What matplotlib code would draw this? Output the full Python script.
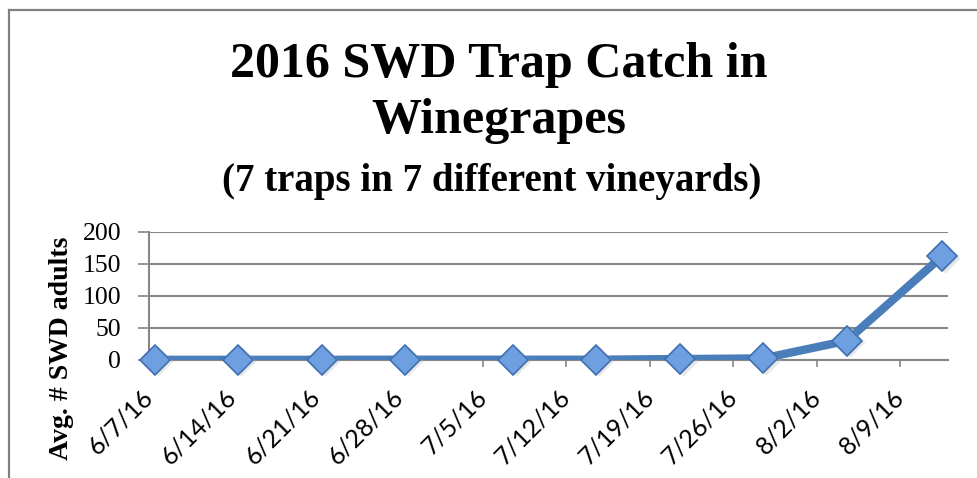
import numpy as np
import matplotlib
matplotlib.use("Agg")
import matplotlib.pyplot as plt
import matplotlib.dates as mdates
import matplotlib.transforms as mtransforms
from matplotlib.lines import Line2D
from datetime import date, timedelta

# trap check dates and average catch per trap
dates = [date(2016, 6, 7), date(2016, 6, 14), date(2016, 6, 21), date(2016, 6, 28),
         date(2016, 7, 7), date(2016, 7, 14), date(2016, 7, 21), date(2016, 7, 28),
         date(2016, 8, 4), date(2016, 8, 12)]
avg_swd = [0.3, 0.3, 0.3, 0.5, 0.5, 0.5, 1.5, 2.5, 30, 162]

tick_dates = [date(2016, 6, 7) + timedelta(days=7 * i) for i in range(10)]
tick_labels = [f"{d.month}/{d.day}/{d:%y}" for d in tick_dates]
y_ticks = [0, 50, 100, 150, 200]

title = "2016 SWD Trap Catch in\nWinegrapes"
subtitle = "(7 traps in 7 different vineyards)"
ylabel = "Avg. # SWD adults"

LINE = "#4A7EBB"
GRID = "#868686"

fig = plt.figure(figsize=(9.78, 4.78), dpi=100)
ax = fig.add_axes([149 / 978, 1 - 360 / 478, (948 - 149) / 978, (360 - 232) / 478])

# excel date axis puts each point in the middle of its day
x = mdates.date2num(dates) + 0.5
ax.plot(x, avg_swd, color=LINE, lw=6, solid_capstyle="butt", zorder=3)
ax.plot(x + 0.25, np.array(avg_swd) - 2.5, ls="none", marker="D", ms=15.5,
        mfc="#bbbbbb", mec="none", alpha=0.35, zorder=3, clip_on=False)
ax.plot(x, avg_swd, ls="none", marker="D", ms=15.5, mfc="#6E9FE0", mec="#3F6FAF",
        mew=1.2, zorder=4, clip_on=False)

ax.set_xlim(mdates.date2num(date(2016, 6, 7)), mdates.date2num(date(2016, 8, 13)))
ax.set_ylim(0, 200)
ax.set_xticks(mdates.date2num(tick_dates))
ax.set_xticklabels(tick_labels, rotation=45, ha="right", va="center",
                   rotation_mode="anchor", family="Lato", fontsize=18)
shift = mtransforms.ScaledTranslation(5 / 72, 0, fig.dpi_scale_trans)
for lab in ax.get_xticklabels():
    lab.set_transform(lab.get_transform() + shift)
ax.set_yticks(y_ticks)
ax.set_yticklabels([str(v) for v in y_ticks], family="Liberation Serif", fontsize=18.5)
ax.tick_params(axis="x", length=5, width=1.2, color=GRID, pad=19)
ax.tick_params(axis="y", length=8, width=1.2, color=GRID, pad=12)
ax.yaxis.grid(True, color=GRID, lw=1.5)
ax.set_axisbelow(True)
for s in ["top", "right"]:
    ax.spines[s].set_visible(False)
for s in ["left", "bottom"]:
    ax.spines[s].set_color(GRID)
    ax.spines[s].set_linewidth(1.5)

fig.text(62 / 978, 1 - 348 / 478, ylabel, rotation=90, ha="center", va="center",
         family="Liberation Serif", fontweight="bold", fontsize=20)

fig.text(499 / 978, 1 - 93 / 478, title, ha="center", va="center", family="Liberation Serif",
         fontweight="bold", fontsize=36, linespacing=1.3)
fig.text(492 / 978, 1 - 181 / 478, subtitle, ha="center", va="center",
         family="Liberation Serif", fontweight="bold", fontsize=28)

# chart frame (only left and top edges visible in the crop)
fig.add_artist(Line2D([9 / 978, 9 / 978], [0, 1 - 10 / 478], color="#808080", lw=1.6))
fig.add_artist(Line2D([9 / 978, 1], [1 - 10 / 478, 1 - 10 / 478], color="#808080", lw=1.6))

fig.savefig("out.png", dpi=100)
